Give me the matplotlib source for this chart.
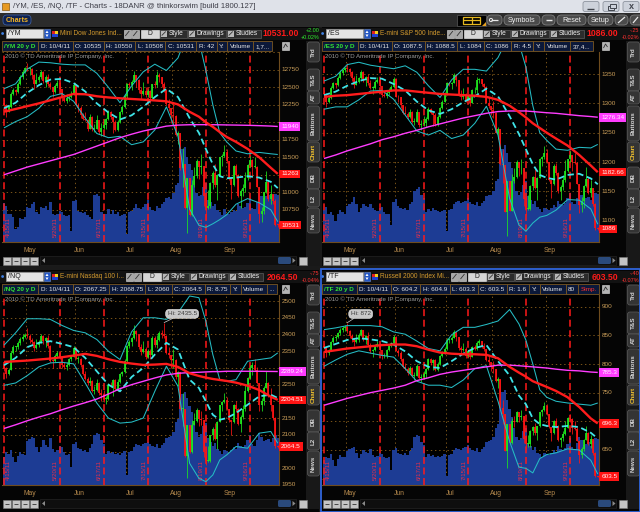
import numpy as np
import pandas as pd
import matplotlib
matplotlib.use("Agg")
import matplotlib.pyplot as plt
from matplotlib.patches import Rectangle, FancyBboxPatch, Circle, Polygon

plt.rcParams['font.family'] = ['Liberation Sans', 'DejaVu Sans']
plt.rcParams['lines.scale_dashes'] = False
plt.rcParams['lines.solid_capstyle'] = 'butt'

# ---------------- trading calendar ----------------
holidays = ['2011-04-22', '2011-05-30', '2011-07-04', '2011-09-05']
days = pd.bdate_range('2011-04-15', '2011-10-04')
days = days[~days.isin(pd.to_datetime(holidays))]
N = len(days)

expiry_dates = ['2011-04-15', '2011-05-20', '2011-06-17', '2011-07-15', '2011-08-19', '2011-09-16']
expiry_labels = ['4/15/11', '5/20/11', '6/17/11', '7/15/11', '8/19/11', '9/16/11']
month_names = ['May', 'Jun', 'Jul', 'Aug', 'Sep']
month_numbers = [5, 6, 7, 8, 9]

# study values are read at these bar positions
anchor_idx = [0, 5, 10, 15, 20, 25, 30, 35, 40, 45, 50, 55, 60, 65, 70, 75, 80,
              84, 87, 90, 93, 96, 100, 105, 110, 115, 118]

# ---------------- /YM ----------------
ym_open0 = 12280
ym_close = [12250, 12150, 12220, 12400, 12460, 12430, 12550, 12650, 12720, 12770,
            12760, 12760, 12680, 12540, 12600, 12640, 12720, 12590, 12650, 12550,
            12500, 12430, 12520, 12560, 12470, 12340, 12310, 12350, 12360, 12400,
            12530, 12250, 12210, 12110, 12050, 12030, 11910, 12080, 11910, 11910,
            12030, 11860, 11920, 11960, 12040, 12150, 12070, 12010, 11890, 12000,
            12140, 12220, 12370, 12540, 12530, 12580, 12680, 12610, 12460, 12400,
            12450, 12390, 12440, 12340, 12540, 12530, 12680, 12640, 12550, 12460,
            12260, 12200, 12100, 12090, 11820, 11850, 11340, 11400, 10770, 11200,
            10680, 11100, 11230, 11440, 11360, 11370, 10950, 10780, 10810, 11130,
            11280, 11110, 11240, 11500, 11520, 11570, 11450, 11200, 11100, 11370,
            11250, 10950, 11020, 11060, 11200, 11390, 11460, 11360, 11360, 11080,
            10690, 10730, 11000, 11150, 10900, 10970, 10870, 10535, 10531]
ym_high = [12330, 12260, 12250, 12430, 12490, 12470, 12570, 12680, 12740, 12790,
           12840, 12790, 12770, 12690, 12700, 12670, 12740, 12730, 12670, 12690,
           12580, 12510, 12550, 12600, 12570, 12450, 12390, 12400, 12410, 12440,
           12560, 12540, 12270, 12230, 12130, 12140, 12050, 12120, 12090, 11980,
           12110, 12030, 11990, 12050, 12060, 12170, 12160, 12070, 12030, 12030,
           12160, 12250, 12400, 12560, 12570, 12600, 12730, 12680, 12620, 12500,
           12570, 12500, 12470, 12460, 12550, 12590, 12730, 12700, 12650, 12570,
           12480, 12330, 12200, 12280, 12100, 11880, 11850, 11630, 11400, 11200,
           11200, 11180, 11360, 11470, 11440, 11550, 11370, 11000, 11030, 11140,
           11300, 11400, 11260, 11510, 11540, 11680, 11620, 11450, 11180, 11390,
           11410, 11260, 11040, 11120, 11290, 11400, 11520, 11470, 11500, 11380,
           11080, 10790, 11010, 11300, 11180, 11110, 10980, 10900, 10550]
ym_low = [12200, 12080, 12140, 12210, 12390, 12390, 12420, 12530, 12620, 12700,
          12730, 12680, 12620, 12480, 12540, 12570, 12620, 12560, 12500, 12520,
          12470, 12360, 12420, 12500, 12430, 12300, 12290, 12280, 12300, 12350,
          12390, 12240, 12140, 12060, 12030, 12020, 11880, 11900, 11880, 11860,
          11900, 11830, 11800, 11900, 11900, 12030, 12050, 11840, 11870, 11880,
          11990, 12120, 12210, 12340, 12490, 12460, 12570, 12500, 12420, 12330,
          12390, 12360, 12360, 12280, 12330, 12490, 12500, 12580, 12500, 12430,
          12240, 12160, 11990, 11980, 11800, 11690, 11320, 11080, 10760, 10420,
          10660, 10660, 11070, 11200, 11190, 11260, 10800, 10600, 10760, 10780,
          11040, 11080, 10890, 11230, 11380, 11500, 11420, 11170, 10900, 11090,
          11210, 10930, 10770, 10950, 11000, 11180, 11360, 11220, 11340, 11070,
          10560, 10570, 10690, 10990, 10880, 10830, 10830, 10520, 10508]
ym_volume = [205, 190, 150, 150, 130, 70, 80, 125, 120, 130,
             185, 180, 200, 210, 160, 150, 185, 180, 190, 170,
             210, 150, 140, 150, 165, 160, 140, 135, 140, 60,
             215, 220, 165, 160, 155, 160, 140, 130, 120, 245,
             255, 240, 160, 150, 150, 175, 145, 170, 150, 160,
             135, 140, 150, 40, 160, 165, 180, 200, 180, 175,
             185, 200, 220, 185, 170, 165, 190, 180, 200, 210,
             230, 235, 225, 260, 300, 310, 440, 490, 500, 450,
             410, 380, 300, 260, 240, 250, 290, 310, 220, 210,
             190, 200, 170, 160, 140, 175, 150, 145, 160, 170,
             165, 200, 190, 180, 185, 205, 230, 180, 175, 210,
             260, 240, 230, 240, 250, 240, 250, 255, 250]
ym_bb_mid = [12200, 12280, 12420, 12530, 12610, 12620, 12560, 12440, 12270, 12140, 12040,
             12100, 12220, 12360, 12480, 12360, 12060, 11850, 11620, 11400, 11230, 11200,
             11210, 11230, 11210, 11150, 11060]
ym_bb_width = [280, 270, 340, 330, 240, 210, 260, 380, 430, 360, 240, 420, 500, 470, 260,
               560, 1300, 1320, 1120, 850, 620, 520, 380, 320, 360, 400, 480]
ym_sma_red = [12151, 12190, 12230, 12270, 12315, 12360, 12405, 12400, 12372, 12355, 12343,
              12333, 12323, 12312, 12300, 12255, 12150, 12080, 12000, 11935, 11860, 11790,
              11720, 11620, 11500, 11350, 11263]
ym_sma_magenta = [11250, 11305, 11360, 11405, 11450, 11495, 11540, 11600, 11660, 11720, 11780,
                  11830, 11875, 11910, 11945, 11960, 11965, 11966, 11966, 11965, 11964, 11962,
                  11960, 11957, 11952, 11946, 11940]

# ---------------- /ES ----------------
es_open0 = 1318
es_close = [1316, 1302, 1309, 1327, 1334, 1332, 1344, 1352, 1357, 1360,
            1358, 1353, 1344, 1332, 1337, 1343, 1354, 1339, 1345, 1334,
            1326, 1326, 1337, 1340, 1330, 1314, 1313, 1317, 1322, 1328,
            1342, 1311, 1310, 1297, 1283, 1282, 1277, 1286, 1268, 1269,
            1285, 1263, 1264, 1267, 1274, 1291, 1283, 1280, 1264, 1276,
            1292, 1303, 1316, 1335, 1333, 1335, 1349, 1340, 1315, 1310,
            1314, 1305, 1312, 1301, 1322, 1322, 1340, 1341, 1333, 1328,
            1301, 1296, 1288, 1283, 1250, 1257, 1197, 1195, 1115, 1168,
            1117, 1168, 1175, 1200, 1189, 1190, 1137, 1120, 1120, 1159,
            1174, 1156, 1173, 1206, 1209, 1215, 1200, 1170, 1162, 1194,
            1182, 1151, 1158, 1169, 1185, 1205, 1212, 1200, 1198, 1163,
            1126, 1133, 1159, 1171, 1147, 1156, 1128, 1087.5, 1086]
es_high = [1322, 1317, 1312, 1330, 1337, 1335, 1347, 1356, 1359, 1362,
           1368, 1360, 1355, 1346, 1349, 1345, 1356, 1355, 1347, 1350,
           1340, 1329, 1340, 1345, 1341, 1318, 1320, 1322, 1326, 1331,
           1345, 1343, 1314, 1311, 1298, 1295, 1285, 1291, 1287, 1275,
           1291, 1286, 1272, 1278, 1277, 1293, 1292, 1284, 1283, 1280,
           1294, 1305, 1319, 1337, 1337, 1337, 1352, 1349, 1340, 1322,
           1327, 1318, 1314, 1314, 1324, 1328, 1345, 1344, 1341, 1335,
           1329, 1310, 1296, 1304, 1285, 1260, 1257, 1222, 1195, 1168,
           1168, 1180, 1190, 1203, 1200, 1206, 1190, 1142, 1144, 1160,
           1176, 1188, 1175, 1207, 1210, 1228, 1222, 1200, 1168, 1196,
           1199, 1183, 1160, 1175, 1203, 1206, 1218, 1212, 1216, 1200,
           1163, 1140, 1160, 1192, 1174, 1170, 1156, 1131, 1088.5]
es_low = [1310, 1294, 1300, 1308, 1325, 1327, 1330, 1341, 1348, 1354,
          1354, 1346, 1338, 1326, 1331, 1334, 1341, 1336, 1330, 1331,
          1324, 1316, 1325, 1335, 1328, 1310, 1310, 1309, 1314, 1321,
          1327, 1310, 1303, 1292, 1281, 1281, 1274, 1275, 1266, 1263,
          1268, 1260, 1255, 1262, 1260, 1272, 1281, 1262, 1262, 1262,
          1275, 1290, 1302, 1314, 1329, 1324, 1334, 1330, 1312, 1305,
          1308, 1302, 1305, 1295, 1300, 1318, 1318, 1334, 1329, 1324,
          1300, 1292, 1280, 1275, 1249, 1239, 1195, 1164, 1114, 1074,
          1116, 1116, 1165, 1172, 1176, 1180, 1125, 1110, 1118, 1118,
          1152, 1154, 1136, 1172, 1194, 1206, 1198, 1168, 1138, 1160,
          1178, 1148, 1135, 1152, 1166, 1183, 1200, 1185, 1196, 1162,
          1113, 1115, 1122, 1158, 1145, 1140, 1125, 1085, 1084]
es_volume = [170, 185, 150, 160, 140, 110, 150, 170, 160, 150,
             190, 200, 210, 235, 200, 160, 180, 200, 190, 185,
             200, 180, 170, 165, 180, 185, 160, 150, 150, 90,
             210, 225, 190, 180, 175, 180, 170, 200, 210, 270,
             280, 290, 250, 230, 160, 175, 165, 180, 170, 165,
             160, 165, 170, 60, 170, 175, 200, 210, 215, 205,
             210, 215, 230, 210, 200, 195, 210, 190, 205, 215,
             240, 245, 250, 270, 320, 330, 450, 490, 510, 470,
             420, 390, 320, 270, 250, 265, 300, 320, 240, 220,
             200, 215, 185, 175, 160, 180, 175, 170, 180, 195,
             185, 215, 200, 195, 205, 230, 260, 210, 200, 230,
             270, 250, 225, 230, 235, 220, 240, 260, 255]
es_bb_mid = [1314, 1320, 1330, 1338, 1343, 1342, 1333, 1322, 1303, 1288, 1282, 1290, 1302,
             1312, 1325, 1312, 1278, 1248, 1222, 1196, 1178, 1173, 1170, 1178, 1180, 1172, 1162]
es_bb_width = [24, 26, 36, 32, 22, 20, 26, 42, 50, 42, 28, 50, 56, 46, 30, 66, 140, 155, 140,
               100, 72, 64, 52, 42, 45, 52, 68]
es_sma_red = [1311, 1313, 1314, 1316, 1318, 1320, 1322, 1322, 1320, 1318, 1316, 1315, 1314,
              1313, 1311, 1306, 1296, 1285, 1276, 1266, 1258, 1250, 1240, 1228, 1212, 1194,
              1182.66]
es_sma_magenta = [1206, 1212, 1219, 1225, 1231, 1238, 1243, 1249, 1254, 1260, 1265, 1270, 1275,
                  1279, 1283, 1286, 1287, 1287, 1287, 1286, 1285, 1284, 1283, 1281, 1279, 1277.5,
                  1276.34]

# ---------------- /NQ ----------------
nq_open0 = 2310
nq_close = [2300, 2282, 2295, 2345, 2362, 2362, 2375, 2385, 2393, 2398,
            2396, 2382, 2378, 2360, 2368, 2378, 2395, 2380, 2388, 2365,
            2322, 2320, 2337, 2346, 2330, 2308, 2302, 2310, 2326, 2334,
            2360, 2328, 2328, 2310, 2282, 2268, 2256, 2262, 2232, 2235,
            2256, 2226, 2218, 2206, 2206, 2250, 2247, 2265, 2238, 2258,
            2282, 2287, 2322, 2365, 2378, 2388, 2410, 2402, 2362, 2348,
            2358, 2333, 2352, 2338, 2390, 2368, 2383, 2405, 2400, 2395,
            2345, 2338, 2323, 2325, 2272, 2288, 2178, 2178, 2038, 2128,
            2048, 2128, 2142, 2175, 2148, 2143, 2048, 2022, 2023, 2098,
            2118, 2088, 2138, 2188, 2198, 2203, 2178, 2143, 2138, 2188,
            2178, 2133, 2153, 2178, 2230, 2270, 2300, 2310, 2295, 2255,
            2190, 2200, 2240, 2255, 2215, 2190, 2150, 2067.25, 2064.5]
nq_high = [2318, 2302, 2300, 2350, 2368, 2366, 2380, 2392, 2400, 2405,
           2418, 2400, 2390, 2380, 2385, 2383, 2400, 2398, 2392, 2398,
           2370, 2328, 2342, 2352, 2350, 2318, 2318, 2318, 2330, 2338,
           2365, 2362, 2336, 2330, 2312, 2292, 2272, 2274, 2264, 2246,
           2266, 2258, 2236, 2235, 2215, 2254, 2258, 2268, 2266, 2266,
           2286, 2292, 2326, 2370, 2382, 2392, 2428, 2412, 2402, 2372,
           2380, 2362, 2356, 2356, 2394, 2396, 2398, 2410, 2412, 2435.5,
           2398, 2362, 2338, 2356, 2326, 2292, 2288, 2225, 2178, 2130,
           2128, 2145, 2165, 2180, 2175, 2172, 2143, 2062, 2068, 2100,
           2122, 2136, 2142, 2190, 2202, 2226, 2212, 2178, 2142, 2192,
           2200, 2180, 2158, 2188, 2248, 2274, 2310, 2318, 2328, 2302,
           2255, 2210, 2245, 2290, 2258, 2240, 2190, 2152, 2068.75]
nq_low = [2290, 2270, 2280, 2294, 2342, 2352, 2358, 2370, 2380, 2388,
          2390, 2375, 2368, 2350, 2358, 2362, 2375, 2372, 2362, 2360,
          2318, 2300, 2318, 2334, 2326, 2300, 2298, 2295, 2305, 2322,
          2332, 2326, 2314, 2302, 2278, 2265, 2250, 2250, 2228, 2222,
          2232, 2220, 2200, 2198, 2192, 2204, 2242, 2215, 2234, 2232,
          2255, 2275, 2285, 2318, 2360, 2365, 2385, 2380, 2358, 2338,
          2345, 2326, 2330, 2326, 2336, 2362, 2360, 2380, 2388, 2390,
          2342, 2330, 2300, 2300, 2268, 2245, 2175, 2125, 2035, 1972,
          2045, 2045, 2128, 2138, 2125, 2130, 2035, 2010, 2018, 2020,
          2085, 2085, 2058, 2138, 2172, 2195, 2175, 2138, 2098, 2136,
          2168, 2128, 2108, 2148, 2170, 2228, 2268, 2278, 2290, 2252,
          2172, 2170, 2190, 2240, 2212, 2172, 2145, 2062, 2060]
nq_volume = [150, 175, 165, 185, 150, 120, 155, 175, 165, 160,
             230, 240, 255, 250, 200, 175, 200, 235, 210, 200,
             245, 190, 175, 185, 205, 200, 175, 160, 165, 95,
             215, 225, 195, 190, 180, 185, 175, 195, 215, 265,
             275, 270, 235, 215, 165, 180, 170, 175, 165, 170,
             160, 170, 180, 55, 175, 180, 200, 215, 210, 205,
             215, 220, 225, 215, 205, 200, 215, 195, 210, 220,
             250, 255, 260, 280, 330, 345, 460, 480, 490, 460,
             415, 385, 325, 280, 255, 270, 310, 325, 245, 225,
             205, 220, 190, 180, 165, 185, 180, 170, 185, 200,
             190, 220, 205, 200, 210, 235, 265, 215, 205, 235,
             275, 255, 230, 235, 240, 225, 245, 265, 250]
nq_bb_mid = [2308, 2330, 2362, 2375, 2380, 2372, 2362, 2330, 2290, 2250, 2230, 2273, 2300,
             2340, 2375, 2355, 2265, 2240, 2200, 2160, 2145, 2150, 2165, 2190, 2215, 2220, 2210]
nq_bb_width = [60, 75, 85, 72, 65, 55, 50, 75, 95, 100, 95, 135, 150, 110, 70, 110, 250, 270,
               240, 180, 120, 110, 100, 130, 110, 110, 135]
nq_sma_red = [2318, 2320, 2322, 2325, 2328, 2332, 2337, 2342, 2336, 2326, 2318, 2313, 2309,
              2310, 2312, 2303, 2284, 2276, 2271, 2267, 2264, 2261, 2256, 2247, 2234, 2214,
              2204.51]
nq_sma_magenta = [2119, 2130, 2142, 2153, 2163, 2175, 2186, 2196, 2207, 2222, 2238, 2250, 2260,
                  2270, 2279, 2284, 2286, 2287, 2288, 2289, 2289, 2290, 2290, 2290, 2290, 2289.5,
                  2289.24]

# ---------------- /TF ----------------
tf_open0 = 832
tf_close = [830, 820, 823, 838, 846, 847, 854, 860, 863, 864,
            857, 849, 844, 838, 842, 851, 859, 844, 849, 834,
            822, 824, 833, 835, 825, 814, 814, 824, 832, 836,
            847, 823, 820, 809, 795, 791, 784, 793, 779, 779,
            797, 776, 777, 782, 791, 809, 801, 807, 790, 800,
            814, 820, 827, 842, 842, 845, 855, 847, 828, 825,
            827, 814, 823, 813, 829, 827, 837, 840, 832, 826,
            807, 803, 796, 791, 771, 774, 723, 713, 649, 695,
            663, 700, 699, 716, 707, 709, 669, 661, 661, 683,
            690, 679, 691, 716, 719, 726, 713, 690, 679, 701,
            692, 668, 671, 678, 689, 705, 704, 689, 686, 666,
            642, 651, 668, 679, 660, 669, 644, 604.2, 603.5]
tf_high = [836, 830, 826, 840, 849, 850, 856, 863, 866, 868,
           872, 860, 852, 846, 852, 854, 861, 860, 851, 855,
           837, 827, 835, 840, 836, 818, 820, 826, 835, 838,
           850, 849, 827, 822, 810, 801, 794, 797, 794, 786,
           800, 797, 783, 788, 793, 810, 810, 809, 808, 803,
           816, 823, 830, 845, 845, 848, 860, 856, 847, 832,
           837, 830, 825, 824, 831, 834, 840, 843, 840, 836,
           827, 814, 804, 806, 792, 777, 774, 738, 713, 696,
           695, 705, 710, 718, 716, 720, 709, 676, 677, 684,
           692, 697, 692, 717, 722, 734, 730, 713, 686, 703,
           706, 693, 673, 683, 700, 707, 713, 705, 700, 690,
           666, 655, 670, 692, 682, 676, 670, 647, 604.9]
tf_low = [826, 812, 816, 822, 837, 841, 845, 850, 856, 858,
          854, 845, 838, 832, 837, 839, 848, 841, 835, 831,
          819, 812, 822, 829, 822, 808, 810, 811, 822, 830,
          835, 822, 814, 805, 793, 789, 781, 782, 777, 772,
          779, 774, 768, 774, 776, 790, 799, 790, 788, 787,
          799, 812, 818, 825, 837, 836, 845, 840, 825, 819,
          822, 811, 812, 808, 812, 824, 824, 833, 828, 823,
          805, 799, 788, 784, 769, 758, 721, 696, 648, 618,
          661, 660, 690, 698, 699, 702, 662, 652, 656, 655,
          676, 677, 668, 690, 709, 718, 711, 688, 666, 678,
          689, 665, 655, 666, 676, 688, 698, 678, 684, 665,
          628, 636, 648, 667, 658, 654, 642, 602, 603.3]
tf_volume = [130, 150, 140, 165, 130, 100, 135, 160, 150, 145,
             180, 190, 195, 200, 170, 140, 165, 185, 175, 170,
             190, 160, 150, 155, 170, 165, 150, 140, 145, 80,
             185, 195, 170, 165, 160, 170, 160, 180, 195, 255,
             265, 260, 225, 210, 150, 165, 155, 160, 150, 155,
             150, 155, 165, 50, 160, 165, 185, 195, 190, 185,
             195, 200, 210, 195, 185, 180, 195, 175, 190, 200,
             225, 230, 235, 255, 300, 320, 440, 490, 500, 450,
             400, 360, 300, 255, 235, 250, 285, 300, 220, 205,
             185, 200, 170, 165, 150, 170, 165, 160, 170, 185,
             175, 205, 190, 185, 195, 215, 245, 200, 190, 220,
             255, 235, 210, 215, 225, 205, 230, 250, 240]
tf_bb_mid = [828, 835, 842, 845, 843, 840, 834, 822, 805, 795, 793, 805, 818, 828, 833, 805,
             780, 745, 730, 705, 695, 692, 690, 692, 690, 680, 670]
tf_bb_width = [32, 28, 25, 22, 24, 25, 22, 30, 35, 32, 30, 46, 46, 36, 36, 70, 115, 125, 112,
               95, 60, 50, 45, 40, 40, 48, 62]
tf_sma_red = [821, 824, 827, 829, 831, 833, 834, 834, 831, 825, 820, 818, 817, 817, 816, 810,
              795, 785, 778, 770, 765, 760, 753, 742, 725, 705, 696.3]
tf_sma_magenta = [728, 734, 740, 745, 750, 754, 758, 763, 771, 776, 782, 786, 789, 792, 795,
                  798, 798, 797, 796, 795, 794, 793, 791, 789, 788, 786, 785.3]

for arr in (ym_close, ym_high, ym_low, ym_volume, es_close, es_high, es_low, es_volume,
            nq_close, nq_high, nq_low, nq_volume, tf_close, tf_high, tf_low, tf_volume):
    assert len(arr) == N, len(arr)

# ---------------- canvas ----------------
W, H = 640, 512
XLIM = (-1.08, 118.53)
VOL_TOP = 1000.0
UP, DN = '#1fe81f', '#ff1414'
GRID = '#7a5418'
TAN = '#c99d58'

fig = plt.figure(figsize=(W / 100, H / 100), dpi=100, facecolor='#050505')
bg = fig.add_axes([0, 0, 1, 1], zorder=0)
bg.set_xlim(0, W)
bg.set_ylim(H, 0)
bg.axis('off')
renderer = fig.canvas.get_renderer()


def rect(x0, y0, x1, y1, fc, ec='none', lw=0.6, z=1):
    bg.add_patch(Rectangle((x0, y0), x1 - x0, y1 - y0, facecolor=fc, edgecolor=ec,
                           linewidth=lw, zorder=z))


def pill(x0, y0, x1, y1, fc, ec='none', r=3, lw=0.6, z=1):
    bg.add_patch(FancyBboxPatch((x0, y0), x1 - x0, y1 - y0,
                                boxstyle=f'round,pad=0,rounding_size={r}',
                                facecolor=fc, edgecolor=ec, linewidth=lw, zorder=z))


def label(x, y, s, size=4.8, color='white', ha='left', va='center', weight='normal',
          rot=0, z=5):
    return bg.text(x, y, s, fontsize=size, color=color, ha=ha, va=va, fontweight=weight,
                   rotation=rot, zorder=z)


# ---------------- window title and top bar ----------------
rect(0, 0, 640, 13, '#dfe2e9')
rect(0, 12.5, 640, 13, '#9aa0aa')
rect(2, 3, 9, 10, '#e79a22', ec='#8a5a10', lw=0.5)
label(13, 6.7, '/YM, /ES, /NQ, /TF - Charts - 18DANR @ thinkorswim [build 1800.127]',
      size=5.6, color='#3c3c46')
for x0 in (583, 603, 623):
    pill(x0, 1.5, x0 + 16, 11.5, '#cdd2db', ec='#8e949f', r=2)
bg.plot([587, 594], [8.5, 8.5], color='#40444c', lw=1.0, zorder=3)
rect(607.5, 5.5, 614, 10, 'none', ec='#40444c', lw=0.7, z=3)
rect(609.5, 3.5, 616, 8, '#cdd2db', ec='#40444c', lw=0.7, z=3)
label(631, 6.8, 'x', size=6.5, color='#40444c', ha='center', weight='bold')

rect(0, 13, 640, 27, '#2b2b2b')
pill(3, 15, 31, 25, '#0d2150', ec='#3d5d9c', r=4)
label(17, 20.2, 'Charts', 5.2, '#f2b324', ha='center', weight='bold')

rect(457, 14.5, 486, 25.5, '#000000', ec='#5a5a5a', lw=0.5)
rect(463, 16.5, 480, 23.5, 'none', ec='#e6b820', lw=0.9, z=3)
bg.plot([471.5, 471.5], [16.5, 23.5], color='#e6b820', lw=0.9, zorder=3)
bg.plot([463, 480], [20, 20], color='#e6b820', lw=0.9, zorder=3)
bg.add_patch(Polygon([(482, 25.5), (486, 25.5), (486, 21.5)], closed=True,
                     facecolor='#e6a020', zorder=3))
for x0, x1, txt in ((487, 502, ''), (504, 540, 'Symbols'), (542, 555, ''),
                    (557, 586, 'Reset'), (588, 613, 'Setup'), (615, 628, ''), (630, 645, '')):
    pill(x0, 15, x1, 25, '#4b4b4b', ec='#7c7c7c', r=4.5)
    if txt:
        label((x0 + x1) / 2, 20.2, txt, 5.2, '#f2f2f2', ha='center')
bg.plot([491, 498], [20, 20], color='#e8e8e8', lw=0.9, zorder=3)
bg.add_patch(Circle((491, 20), 1.6, facecolor='none', edgecolor='#e8e8e8', lw=0.7, zorder=3))
bg.plot([545.5, 551.5], [20, 20], color='#e8e8e8', lw=1.0, zorder=3)
bg.plot([618, 625], [23, 17], color='#e8e8e8', lw=0.9, zorder=3)
bg.plot([633, 638], [23, 17], color='#e8e8e8', lw=0.9, zorder=3)

# ---------------- panels ----------------
month_first = [int(np.where(days.month == m)[0][0]) for m in month_numbers]
expiry_idx = [int(days.get_loc(pd.Timestamp(d))) for d in expiry_dates]

tab_spans = [('Trd', 42, 62), ('T&S', 69, 91), ('AT', 91, 104), ('Buttons', 106, 141),
             ('Chart', 142, 162), ('DB', 167, 189), ('L2', 189, 207), ('News', 208, 233)]


def draw_panel(ox, oy, p):
    # symbol row
    rect(ox, oy + 27.5, ox + 320, oy + 40, '#121212')
    bg.add_patch(Circle((ox + 2.6, oy + 33.5), 1.4, facecolor='#3f7fe0', zorder=3))
    rect(ox + 6, oy + 29, ox + 43, oy + 38, '#e4e4e4', ec='#9c9c9c', lw=0.5)
    label(ox + 8, oy + 33.7, p['symbol'], 5.0, '#1e1e1e')
    rect(ox + 44, oy + 29, ox + 50, oy + 38, '#2356c4', ec='#6f8fd0', lw=0.4)
    bg.add_patch(Polygon([(ox + 45.5, oy + 33), (ox + 48.5, oy + 33), (ox + 47, oy + 30.5)],
                         facecolor='white', zorder=3))
    bg.add_patch(Polygon([(ox + 45.5, oy + 34.5), (ox + 48.5, oy + 34.5), (ox + 47, oy + 37)],
                         facecolor='white', zorder=3))
    rect(ox + 52, oy + 30.5, ox + 55, oy + 33.5, '#e02020', z=2)
    rect(ox + 55, oy + 30.5, ox + 58, oy + 33.5, '#f0d020', z=2)
    rect(ox + 52, oy + 33.5, ox + 58, oy + 36.5, '#2040d0', z=2)
    td = label(ox + 60, oy + 33.8, p['desc'], 4.7, '#d39a2e')
    # the toolbar buttons follow the description text
    bx = td.get_window_extent(renderer=renderer).x1 + 2
    for k in range(2):
        x0 = bx + 8 * k
        rect(x0, oy + 29.5, x0 + 7, oy + 37.5, '#a8a8a8', ec='#e0e0e0', lw=0.4)
        bg.plot([x0 + 1.5, x0 + 5.5], [oy + 36, oy + 31], color='#333333', lw=0.6, zorder=3)
    bx += 17
    rect(bx, oy + 29.5, bx + 18, oy + 37.5, '#d6d6d6', ec='#f4f4f4', lw=0.4)
    label(bx + 9, oy + 33.7, 'D', 4.9, '#202020', ha='center')
    bx += 19
    for wbtn, txt in ((27, 'Style'), (38, 'Drawings'), (34, 'Studies')):
        rect(bx, oy + 29.5, bx + wbtn, oy + 37.5, '#2c2c2c', ec='#6e6e6e', lw=0.4)
        rect(bx + 1, oy + 30.5, bx + 7, oy + 36.5, '#b8b8b8', z=2)
        bg.plot([bx + 2, bx + 6], [oy + 35.5, oy + 31.5], color='#333333', lw=0.6, zorder=3)
        label(bx + 8.5, oy + 33.7, txt, 4.8, '#f0f0f0')
        bx += wbtn + 1
    label(ox + 298.5, oy + 34, p['last'], 6.2, '#ff1a1a', ha='right', weight='bold', z=6)
    label(ox + 319.5, oy + 30.3, p['chg'], 4.0, p['chg_color'], ha='right')
    label(ox + 319.5, oy + 37.2, p['chg_pct'], 4.0, p['chg_color'], ha='right')

    # info row
    x = ox + 2
    y0, y1 = oy + 41, oy + 51
    for txt, col in p['info']:
        t = label(x + 2.5, (y0 + y1) / 2 + 0.3, txt, 4.6, col,
                  weight='bold' if col == '#33e633' else 'normal')
        w = t.get_window_extent(renderer=renderer).width
        rect(x, y0, x + w + 5, y1, '#0b1839', ec='#7a5822', lw=0.6, z=2)
        x += w + 5
    rect(ox + 282, oy + 42, ox + 289, oy + 50, '#b4b4b4', ec='#e0e0e0', lw=0.4)
    bg.plot([ox + 283.5, ox + 285.5, ox + 287.5], [oy + 48, oy + 44, oy + 47], color='#303030',
            lw=0.6, zorder=3)

    # side tabs
    rect(ox + 305.5, oy + 27.5 + 13, ox + 320, oy + 266, '#181818')
    for name, t0, t1 in tab_spans:
        pill(ox + 307.5, oy + t0, ox + 319.5, oy + t1, '#343434', ec='#5c5c5c', r=2.5, lw=0.5)
        label(ox + 313.6, oy + (t0 + t1) / 2, name, 4.5,
              '#f2c22e' if name == 'Chart' else '#d4d4d4', ha='center', weight='bold', rot=90)

    # bottom toolbar
    ty0, ty1 = oy + 255.5, oy + 265.5
    for x0 in (3, 12, 21, 30):
        rect(ox + x0, ty0 + 1, ox + x0 + 8, ty1 - 1, '#c4c4c4', ec='#7c7c7c', lw=0.4)
        bg.plot([ox + x0 + 2, ox + x0 + 6], [ty0 + 5, ty0 + 5], color='#303030', lw=0.6,
                zorder=3)
    rect(ox + 40, ty0 + 0.5, ox + 296, ty1 - 0.5, '#0e0e0e', ec='#2a2a2a', lw=0.4)
    bg.add_patch(Polygon([(ox + 42, ty0 + 5), (ox + 45, ty0 + 7.5), (ox + 45, ty0 + 2.5)],
                         facecolor='#8a8a8a', zorder=3))
    pill(ox + 278, ty0 + 1.5, ox + 291, ty1 - 1.5, '#2a4a7c', r=1.5)
    bg.add_patch(Polygon([(ox + 292.5, ty0 + 2.5), (ox + 292.5, ty0 + 7.5), (ox + 295.5, ty0 + 5)],
                         facecolor='#8a8a8a', zorder=3))
    rect(ox + 299, ty0 + 1, ox + 307, ty1 - 1, '#c4c4c4', ec='#7c7c7c', lw=0.4)

    # chart axes: volume underneath, price on top
    ax_rect = [(ox + 1.5) / W, 1 - (oy + 242) / H, 277.5 / W, 190 / H]
    axv = fig.add_axes(ax_rect, zorder=1)
    axp = fig.add_axes(ax_rect, zorder=2)
    axv.set_facecolor('black')
    axp.patch.set_alpha(0)
    for a in (axv, axp):
        a.set_xlim(XLIM)
        a.set_xticks([])
        a.set_yticks([])
        for s in a.spines.values():
            s.set_visible(False)
    axv.set_ylim(0, VOL_TOP)
    ymin, ymax = p['ylim']
    axp.set_ylim(ymin, ymax)
    for side in ('right', 'bottom'):
        axp.spines[side].set_visible(True)
        axp.spines[side].set_color('#6e4c1e')
        axp.spines[side].set_linewidth(0.8)

    x = np.arange(N)
    px_per_unit = 190.0 / (ymax - ymin)

    # grid (behind the volume)
    for tv in p['ticks']:
        f = axp.transLimits.transform((0, tv))[1]
        axv.axhline(f * VOL_TOP, color=GRID, lw=0.7, ls=(0, (1, 2)), zorder=0)
    for i0 in month_first:
        axv.axvline(i0 - 0.5, color=GRID, lw=0.7, ls=(0, (1, 2)), zorder=0)

    # volume
    axv.bar(x, p['volume'], width=1.0, color='#1d3c94', linewidth=0, zorder=2)

    # option-expiration markers; the first one sits at the left edge, so its
    # label goes on the right of the line
    xt = axp.get_xaxis_transform()
    for k, (idx, lab) in enumerate(zip(expiry_idx, expiry_labels)):
        axp.axvline(idx, color='#ff1a1a', lw=1.1, dashes=(5, 2.6), zorder=1)
        if k == 0:
            axp.text(idx + 0.7, 0.026, lab, transform=xt, rotation=90, ha='left', va='bottom',
                     fontsize=4.4, color='#e2304c', zorder=1, clip_on=True)
        else:
            axp.text(idx - 0.7, 0.026, lab, transform=xt, rotation=90, ha='right', va='bottom',
                     fontsize=4.4, color='#e2304c', zorder=1, clip_on=True)

    # month labels
    for i0, name in zip(month_first, month_names):
        axp.text(i0 + 1.3, -0.043, name, transform=xt, ha='center', va='center',
                 fontsize=4.9, color='#b98c4e', clip_on=False)

    # candles
    c = np.asarray(p['close'], float)
    o = np.r_[p['open0'], c[:-1]]
    hi = np.asarray(p['high'], float)
    lo = np.asarray(p['low'], float)
    cols = np.where(c >= o, UP, DN)
    b0 = np.minimum(o, c)
    b1 = np.maximum(np.maximum(o, c), b0 + 0.9 / px_per_unit)
    axp.vlines(x, lo, hi, colors=cols, lw=0.55, zorder=2)
    axp.vlines(x, b0, b1, colors=cols, lw=1.25, zorder=2)

    # studies
    mid = np.asarray(p['bb_mid'], float)
    wid = np.asarray(p['bb_width'], float)
    axp.plot(anchor_idx, mid + wid, color='#25bcc4', lw=0.75, zorder=3)
    axp.plot(anchor_idx, mid - wid, color='#25bcc4', lw=0.75, zorder=3)
    axp.plot(anchor_idx, mid, color='#3fe4e8', lw=1.3, dashes=(4.5, 2.6), zorder=3)
    axp.plot(anchor_idx, p['sma_magenta'], color='#ff3cff', lw=1.0, zorder=4)
    axp.plot(anchor_idx, p['sma_red'], color='#ff1c1c', lw=1.7, zorder=4)

    axp.text(0.012, 0.995, '2010 \u00a9 TD Ameritrade IP Company, Inc.', transform=axp.transAxes,
             fontsize=4.4, color='#9c9c9c', va='top', ha='left', zorder=6)

    if p.get('hi_note'):
        hi_idx, hi_val, hi_txt = p['hi_note']
        axp.annotate(hi_txt, xy=(hi_idx, hi_val), xytext=(2.5, 4.5), textcoords='offset points',
                     fontsize=4.6, color='#3c3c3c', ha='left', va='bottom', zorder=7,
                     bbox=dict(boxstyle='round,pad=0.3,rounding_size=0.6', fc='#c8c8c8',
                               ec='#eeeeee', lw=0.4),
                     arrowprops=dict(arrowstyle='-', color='#d0d0d0', lw=0.5,
                                     shrinkA=0, shrinkB=0),
                     annotation_clip=False)

    # right-hand price scale and value bubbles
    yt = axp.get_yaxis_transform()
    boxes = [(p['sma_magenta'][-1], p['mag_label'], '#ff3cff', '#fff0ff'),
             (p['sma_red'][-1], p['red_label'], '#ff1414', '#fff2f2'),
             (p['close'][-1], p['last_label'], '#ff1414', '#fff2f2')]
    box_vals = [b[0] for b in boxes]
    for tv in p['ticks']:
        if tv < ymin or (ymax - tv) * px_per_unit < 3:
            continue
        if any(abs(tv - bv) * px_per_unit < 7 for bv in box_vals):
            continue
        axp.text(1 + 2.5 / 277.5, tv, p['tick_fmt'].format(tv), transform=yt, fontsize=4.6,
                 color=TAN, va='center', ha='left', clip_on=False, zorder=6)
    for bv, txt, fc, tc in boxes:
        axp.text(1 + 2.2 / 277.5, bv, txt, transform=yt, fontsize=4.6, color=tc, va='center',
                 ha='left', clip_on=False, zorder=7,
                 bbox=dict(boxstyle='square,pad=0.28', fc=fc, ec='none'))


W_TXT = '#e6e6e6'
GREEN_TXT = '#33e633'

panels = [
    (0, 0, dict(symbol='/YM', desc='Mini Dow Jones Ind...', last='10531.00', chg='+2.00',
                chg_pct='+0.02%', chg_color='#2ee82e',
                info=[('/YM 20 y D', GREEN_TXT), ('D: 10/4/11', W_TXT), ('O: 10535', W_TXT),
                      ('H: 10550', W_TXT), ('L: 10508', W_TXT), ('C: 10531', W_TXT),
                      ('R: 42', W_TXT), ('Y:', W_TXT), ('Volume', W_TXT), ('1,7...', W_TXT)],
                open0=ym_open0, close=ym_close, high=ym_high, low=ym_low, volume=ym_volume,
                bb_mid=ym_bb_mid, bb_width=ym_bb_width, sma_red=ym_sma_red,
                sma_magenta=ym_sma_magenta, ylim=(10290, 13004),
                ticks=list(range(10250, 13001, 250)), tick_fmt='{:.0f}',
                mag_label='11940', red_label='11263', last_label='10531')),
    (320, 0, dict(symbol='/ES', desc='E-mini S&P 500 Inde...', last='1086.00', chg='-.25',
                  chg_pct='-0.02%', chg_color='#ff3030',
                  info=[('/ES 20 y D', GREEN_TXT), ('D: 10/4/11', W_TXT), ('O: 1087.5', W_TXT),
                        ('H: 1088.5', W_TXT), ('L: 1084', W_TXT), ('C: 1086', W_TXT),
                        ('R: 4.5', W_TXT), ('Y:', W_TXT), ('Volume', W_TXT), ('37,4...', W_TXT)],
                  open0=es_open0, close=es_close, high=es_high, low=es_low, volume=es_volume,
                  bb_mid=es_bb_mid, bb_width=es_bb_width, sma_red=es_sma_red,
                  sma_magenta=es_sma_magenta, ylim=(1063.7, 1387.5),
                  ticks=list(range(1050, 1401, 50)), tick_fmt='{:.0f}',
                  mag_label='1276.34', red_label='1182.66', last_label='1086')),
    (0, 243, dict(symbol='/NQ', desc='E-mini Nasdaq 100 I...', last='2064.50', chg='-.75',
                  chg_pct='-0.04%', chg_color='#ff3030',
                  info=[('/NQ 20 y D', GREEN_TXT), ('D: 10/4/11', W_TXT), ('O: 2067.25', W_TXT),
                        ('H: 2068.75', W_TXT), ('L: 2060', W_TXT), ('C: 2064.5', W_TXT),
                        ('R: 8.75', W_TXT), ('Y:', W_TXT), ('Volume', W_TXT), ('...', W_TXT)],
                  open0=nq_open0, close=nq_close, high=nq_high, low=nq_low, volume=nq_volume,
                  bb_mid=nq_bb_mid, bb_width=nq_bb_width, sma_red=nq_sma_red,
                  sma_magenta=nq_sma_magenta, ylim=(1950, 2518),
                  ticks=list(range(1950, 2501, 50)), tick_fmt='{:.0f}',
                  mag_label='2289.24', red_label='2204.51', last_label='2064.5',
                  hi_note=(69, 2435.5, 'Hi: 2435.5'))),
    (320, 243, dict(symbol='/TF', desc='Russell 2000 Index Mi...', last='603.50', chg='-.40',
                    chg_pct='-0.07%', chg_color='#ff3030',
                    info=[('/TF 20 y D', GREEN_TXT), ('D: 10/4/11', W_TXT), ('O: 604.2', W_TXT),
                          ('H: 604.9', W_TXT), ('L: 603.3', W_TXT), ('C: 603.5', W_TXT),
                          ('R: 1.6', W_TXT), ('Y:', W_TXT), ('Volume', W_TXT), ('80', W_TXT),
                          ('Simp.', '#ff3030')],
                    open0=tf_open0, close=tf_close, high=tf_high, low=tf_low, volume=tf_volume,
                    bb_mid=tf_bb_mid, bb_width=tf_bb_width, sma_red=tf_sma_red,
                    sma_magenta=tf_sma_magenta, ylim=(588.9, 920.4),
                    ticks=list(range(600, 901, 50)), tick_fmt='{:.0f}',
                    mag_label='785.3', red_label='696.3', last_label='603.5',
                    hi_note=(10, 872, 'Hi: 872'))),
]

for ox, oy, spec in panels:
    draw_panel(ox, oy, spec)

# panel separators and the highlighted (active) panel frame
rect(318.5, 27, 321.5, 512, '#1a1a1a', z=0.5)
rect(0, 266, 640, 270, '#1a1a1a', z=0.5)
bg.add_patch(Rectangle((321, 268.5), 318.5, 243, facecolor='none', edgecolor='#2e64da',
                       linewidth=1.3, zorder=8))

fig.savefig('out.png', dpi=100, facecolor=fig.get_facecolor())
